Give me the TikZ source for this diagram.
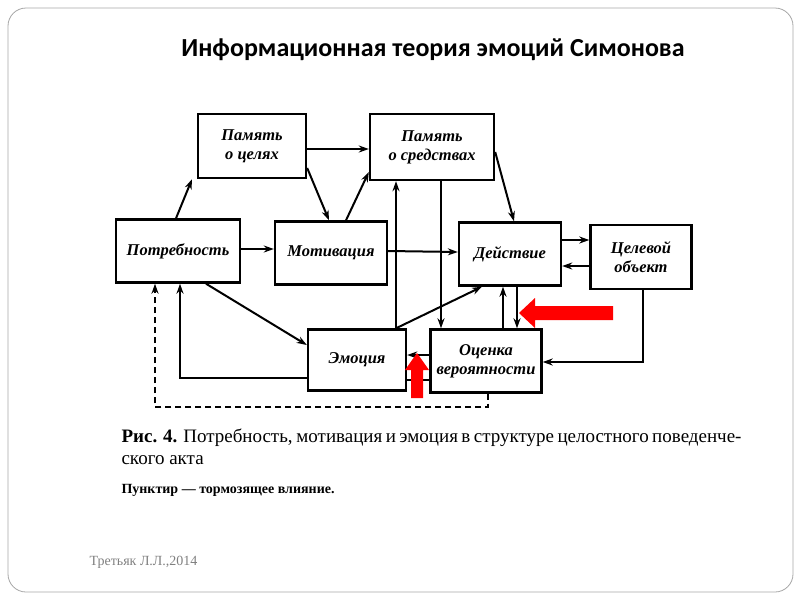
\documentclass[tikz,border=0pt]{standalone}
\usepackage{fontspec}
\setmainfont{Liberation Serif}
\newfontfamily\titlefont{Carlito}
\usetikzlibrary{arrows.meta}
\begin{document}
\begin{tikzpicture}[x=1pt,y=-1pt,
  bx/.style={draw,line width=2.4pt,align=center,font=\bfseries\itshape\fontsize{16.5}{19}\selectfont,inner sep=0pt},
  ar/.style={-{Stealth[length=10pt,width=7pt]},line width=2pt},
  ln/.style={line width=2pt}]
\useasboundingbox (0,0) rectangle (800,600);
\draw[gray!70,line width=0.8pt,rounded corners=18pt] (8,8) rectangle (793,592);
\node[font=\titlefont\bfseries\fontsize{26}{30}\selectfont] (title) at (433,50) {Информационная теория эмоций Симонова};
\node[bx,minimum width=108,minimum height=64] (pc) at (252,146) {Память\\о целях};
\node[bx,minimum width=124,minimum height=66] (ps) at (432,147) {Память\\о средствах};
\node[bx,minimum width=124,minimum height=63] (pt) at (178,251) {Потребность};
\node[bx,minimum width=112,minimum height=63] (mo) at (331,253) {Мотивация};
\node[bx,minimum width=102,minimum height=63] (de) at (510,254) {Действие};
\node[bx,minimum width=101,minimum height=64] (co) at (641,257) {Целевой\\объект};
\node[bx,minimum width=98,minimum height=61] (em) at (357,360) {Эмоция};
\node[bx,minimum width=111,minimum height=63] (oc) at (486,361) {Оценка\\вероятности};
\draw[ar] (pt.north -| 176,0) -- (pc.south -| 192,0);
\draw[ar] (pc.east |- 0,149) -- (ps.west |- 0,149);
\draw[ar] (pc.east |- 0,168) -- (mo.north -| 329,0);
\draw[ar] (mo.north -| 346,0) -- (ps.west |- 0,172);
\draw[ar] (ps.east |- 0,152) -- (de.north -| 514,0);
\draw[ar] (pt.east |- 0,249) -- (mo.west |- 0,249);
\draw[ar] (mo.east |- 0,251) -- (de.west |- 0,252);
\draw[ar] (de.east |- 0,240) -- (co.west |- 0,240);
\draw[ar] (co.west |- 0,266) -- (de.east |- 0,266);
\draw[ar] (pt.south -| 206,0) -- (em.west |- 0,345);
\draw[ar] (em.west |- 0,378) -| (pt.south -| 180,0);
\draw[ar] (em.north -| 396,0) -- (de.south -| 482,0);
\draw[ar] (em.north -| 396,0) -- (ps.south -| 396,0);
\draw[ar] (ps.south -| 441,0) -- (oc.north -| 441,0);
\draw[ar] (oc.north -| 503,0) -- (de.south -| 503,0);
\draw[ar] (de.south -| 517,0) -- (oc.north -| 517,0);
\draw[ar] (co.south -| 643,0) |- (oc.east |- 0,362);
\draw[ar] (oc.west |- 0,355) -- (em.east |- 0,355);
\draw[ln] (oc.west |- 0,380) -- (em.east |- 0,380);
\draw[ar,dash pattern=on 6pt off 4pt,line width=1.4pt] (oc.south -| 488,0) -- (488,407) -| (pt.south -| 155,0);
\fill[red] (613,306) -- (535,306) -- (535,298) -- (519,313) -- (535,328) -- (535,320) -- (613,320) -- cycle;
\fill[red] (411,398) -- (411,370) -- (405,370) -- (417,353) -- (429,370) -- (423,370) -- (423,398) -- cycle;
\node[anchor=west,text width=620,align=justify,font=\fontsize{19}{22}\selectfont] (c1) at (118,447) {\textbf{Рис. 4.} Потребность, мотивация и эмоция в структуре целостного поведенче-\linebreak ского акта};
\node[anchor=west,font=\bfseries\fontsize{14}{16}\selectfont] (c3) at (118,490) {Пунктир — тормозящее влияние.};
\node[anchor=west,text=gray,font=\fontsize{14}{16}\selectfont] (ft) at (86,562) {Третьяк Л.Л.,2014};
\end{tikzpicture}
\end{document}
